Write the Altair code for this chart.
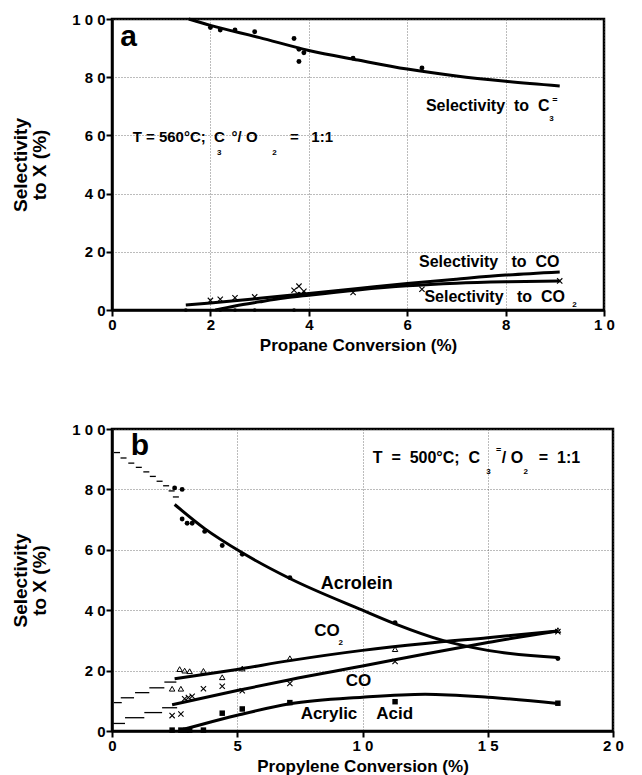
import altair as alt
import pandas as pd

FONT = "Liberation Sans"

# ---------------- panel a: propane, T = 560 C ----------------
a_c3_x = [2.0, 2.2, 2.5, 2.9, 3.7, 3.8, 3.9, 3.8, 4.9, 6.3]
a_c3_y = [97.1, 96.2, 96.2, 95.6, 93.3, 89.6, 88.4, 85.4, 86.5, 83.2]
a_co_x = [2.0, 2.2, 2.5, 2.9, 3.7, 3.8, 3.9, 4.9, 6.3, 9.1]
a_co_y = [3.3, 3.7, 4.2, 4.5, 6.8, 8.2, 6.4, 6.0, 7.1, 10.0]
a_co2_x = [1.5, 2.2, 2.5, 2.9, 3.7, 3.8, 3.9]
a_co2_y = [0.0, 0.0, 0.0, 0.0, 0.0, 5.6, 5.9]

# fitted trend curves
a_fit_c3_x = [1.56, 2.0, 3.0, 4.0, 5.0, 6.0, 7.0, 8.0, 9.1]
a_fit_c3_y = [100.0, 97.8, 93.6, 89.2, 85.9, 82.8, 80.4, 78.6, 77.0]
a_fit_co_x = [1.5, 2.0, 3.0, 4.0, 5.0, 6.0, 7.0, 8.0, 9.1]
a_fit_co_y = [1.7, 2.4, 4.0, 5.7, 7.4, 9.1, 10.6, 12.0, 13.1]
a_fit_co2_x = [2.1, 2.5, 3.0, 3.5, 4.0, 5.0, 6.0, 7.0, 8.0, 9.1]
a_fit_co2_y = [0.0, 1.4, 2.8, 4.1, 5.1, 6.9, 8.3, 9.2, 9.7, 10.0]

a_x_ticks = [0, 2, 4, 6, 8, 10]
a_x_labels = ["0", "2", "4", "6", "8", "1 0"]

# ---------------- panel b: propylene, T = 500 C ----------------
b_acr_x = [2.5, 2.8, 2.8, 3.0, 3.2, 3.7, 4.4, 5.2, 7.1, 11.3, 17.8]
b_acr_y = [80.5, 80.0, 70.2, 68.8, 68.8, 66.1, 61.4, 58.5, 50.8, 35.9, 24.0]
b_co2_x = [2.4, 2.75, 2.7, 2.9, 3.1, 3.65, 4.4, 5.2, 7.1, 11.3, 17.8]
b_co2_y = [14.0, 14.0, 20.5, 20.0, 19.8, 19.9, 17.8, 20.7, 24.1, 27.1, 33.4]
b_co_x = [2.4, 2.75, 2.9, 3.05, 3.2, 3.65, 4.4, 5.2, 7.1, 11.3, 17.8]
b_co_y = [5.1, 5.6, 10.7, 11.1, 11.5, 14.0, 14.8, 13.3, 15.7, 23.0, 32.9]
b_aa_x = [2.4, 2.75, 2.95, 3.1, 3.65, 4.4, 5.2, 7.1, 11.3, 17.8]
b_aa_y = [0.3, 0.3, 0.3, 0.3, 0.3, 5.9, 7.3, 9.4, 9.7, 9.2]

b_fit_acr_x = [2.5, 3.7, 5.2, 7.1, 10.0, 11.3, 13.2, 15.0, 17.8]
b_fit_acr_y = [75.0, 67.0, 59.0, 50.5, 40.0, 35.5, 30.0, 26.7, 24.3]
b_fit_co2_x = [2.5, 5.0, 7.1, 10.0, 12.5, 15.0, 17.8]
b_fit_co2_y = [17.3, 20.4, 23.3, 26.7, 29.0, 30.9, 33.1]
b_fit_co_x = [2.4, 5.0, 7.1, 10.0, 12.5, 15.0, 17.8]
b_fit_co_y = [8.7, 13.4, 17.0, 21.5, 25.5, 29.3, 33.1]
b_fit_aa_x = [2.7, 3.5, 5.0, 7.1, 10.0, 12.5, 15.0, 17.8]
b_fit_aa_y = [0.2, 2.0, 5.2, 9.0, 11.2, 12.2, 11.2, 9.1]

# hatched extrapolation of the fits towards zero conversion
b_ext_acr_x = [0.08, 0.34, 0.65, 0.95, 1.25, 1.51, 1.78, 2.04, 2.26, 2.43]
b_ext_acr_y = [92.2, 90.4, 88.7, 87.3, 85.8, 84.3, 82.7, 81.2, 79.5, 77.5]
b_ext_acr_w = 0.24
b_ext_co2_x1 = [2.09, 1.49, 0.92, 0.35, 0.08]
b_ext_co2_x2 = [2.57, 2.09, 1.49, 0.88, 0.39]
b_ext_co2_y = [16.2, 14.3, 12.7, 11.0, 9.4]
b_ext_co_x1 = [2.0, 1.29, 0.52, 0.05]
b_ext_co_x2 = [2.6, 2.0, 1.29, 0.52]
b_ext_co_y = [7.7, 6.1, 4.4, 2.5]

b_x_ticks = [0, 5, 10, 15, 20]
b_x_labels = ["0", "5", "1 0", "1 5", "2 0"]

y_ticks = [0, 20, 40, 60, 80, 100]
y_labels = ["0", "2 0", "4 0", "6 0", "8 0", "1 0 0"]

NB = "\u00a0"


def label_expr(values, labels):
    expr = "datum.label"
    for v, l in reversed(list(zip(values, labels))):
        expr = f"datum.value == {v} ? '{l}' : ({expr})"
    return expr


def axis(values, labels, title, **kw):
    return alt.Axis(
        values=values, labelExpr=label_expr(values, labels), title=title,
        grid=True, gridDash=[1, 2], gridColor="#555555", gridWidth=0.8,
        domainColor="black", domainWidth=2.5, tickColor="black", tickWidth=2,
        tickSize=6, labelFont=FONT, labelFontWeight="bold", labelFontSize=15,
        labelColor="black", labelPadding=1, labelOverlap=False,
        titleFont=FONT, titleFontWeight="bold", titleColor="black", **kw)


def frame(xs, ys, **extra):
    d = {"x": xs, "y": ys}
    d.update(extra)
    return pd.DataFrame(d)


def fits(pairs):
    rows = []
    for name, xs, ys in pairs:
        for i, (x, y) in enumerate(zip(xs, ys)):
            rows.append({"series": name, "x": x, "y": y, "order": i})
    return pd.DataFrame(rows)


def texts(items):
    return pd.DataFrame(items, columns=["x", "y", "t", "s"])


CROSS = "M-1,-1L1,1M-1,1L1,-1"


def panel(xmax, xticks, xlabels, xtitle, width, height, fit_df, point_layers,
          rule_df, left_texts, center_texts):
    X = alt.X("x:Q", scale=alt.Scale(domain=[0, xmax], nice=False),
              axis=axis(xticks, xlabels, xtitle, labelFlush=False,
                        titleFontSize=17, titlePadding=5))
    Y = alt.Y("y:Q", scale=alt.Scale(domain=[0, 100], nice=False),
              axis=axis(y_ticks, y_labels, ["Selectivity", "to X (%)"],
                        titleFontSize=19, titleLineHeight=19, titlePadding=22))
    layers = [
        alt.Chart(fit_df).mark_line(color="black", strokeWidth=3,
                                    interpolate="monotone")
        .encode(x=X, y=Y, detail="series:N", order="order:Q")
    ]
    if rule_df is not None:
        layers.append(alt.Chart(rule_df).mark_rule(color="black", strokeWidth=1.3)
                      .encode(x=X, x2="x2:Q", y=Y))
    for df, mark in point_layers:
        layers.append(alt.Chart(df).mark_point(**mark).encode(x=X, y=Y))
    for df, align in ((left_texts, "left"), (center_texts, "center")):
        layers.append(
            alt.Chart(df).mark_text(font=FONT, fontWeight="bold", align=align,
                                    baseline="alphabetic", color="black")
            .encode(x=X, y=Y, text="t:N", size=alt.Size("s:Q", scale=None)))
    return alt.layer(*layers).properties(width=width, height=height)


dot = dict(shape="circle", filled=True, color="black", size=24, opacity=1)
small_dot = dict(shape="circle", filled=True, color="black", size=14, opacity=1)
cross = dict(shape=CROSS, filled=False, color="black", size=28, strokeWidth=1.1,
             opacity=1)
tri = dict(shape="triangle-up", filled=False, color="black", size=30,
           strokeWidth=1.0, opacity=1)
square = dict(shape="square", filled=True, color="black", size=30, opacity=1)

chart_a = panel(
    10, a_x_ticks, a_x_labels, "Propane Conversion (%)", 492, 291,
    fits([("C3=", a_fit_c3_x, a_fit_c3_y), ("CO", a_fit_co_x, a_fit_co_y),
          ("CO2", a_fit_co2_x, a_fit_co2_y)]),
    [(frame(a_c3_x, a_c3_y), dot), (frame(a_co_x, a_co_y), cross),
     (frame(a_co2_x, a_co2_y), small_dot)],
    None,
    texts([
        (0.17, 90.7, "a", 30),
        (0.42, 57.8, f"T{NB}={NB}560°C;{NB}{NB}C", 15),
        (2.43, 57.8, f"°/{NB}O", 15),
        (3.62, 57.8, f"={NB}{NB}{NB}1:1", 15),
        (6.38, 68.4, f"Selectivity{NB}{NB}to{NB}{NB}C", 16),
        (6.24, 14.8, f"Selectivity{NB}{NB}{NB}to{NB}{NB}CO", 16),
        (6.35, 2.85, f"Selectivity{NB}{NB}{NB}to{NB}{NB}CO", 16),
    ]),
    texts([
        (2.18, 53.3, "3", 8),
        (3.30, 53.3, "2", 8),
        (8.93, 64.9, "3", 8),
        (9.00, 71.3, "=", 9),
        (9.40, 1.2, "2", 8),
    ]),
)

rules_b = pd.concat([
    pd.DataFrame({"x": b_ext_acr_x,
                  "x2": [v + b_ext_acr_w for v in b_ext_acr_x],
                  "y": b_ext_acr_y}),
    pd.DataFrame({"x": b_ext_co2_x1, "x2": b_ext_co2_x2, "y": b_ext_co2_y}),
    pd.DataFrame({"x": b_ext_co_x1, "x2": b_ext_co_x2, "y": b_ext_co_y}),
], ignore_index=True)

chart_b = panel(
    20, b_x_ticks, b_x_labels, "Propylene Conversion (%)", 501, 302,
    fits([("Acrolein", b_fit_acr_x, b_fit_acr_y), ("CO2", b_fit_co2_x, b_fit_co2_y),
          ("CO", b_fit_co_x, b_fit_co_y), ("Acrylic acid", b_fit_aa_x, b_fit_aa_y)]),
    [(frame(b_acr_x, b_acr_y), dot), (frame(b_co2_x, b_co2_y), tri),
     (frame(b_co_x, b_co_y), cross), (frame(b_aa_x, b_aa_y), square)],
    rules_b,
    texts([
        (0.75, 91.3, "b", 30),
        (10.41, 88.9, f"T{NB}{NB}={NB}{NB}500°C;{NB}{NB}C", 16),
        (15.56, 88.9, f"/{NB}O", 16),
        (17.04, 88.9, f"={NB}{NB}1:1", 16),
        (8.33, 47.0, "Acrolein", 18),
        (8.07, 31.6, "CO", 17),
        (9.33, 15.0, "CO", 17),
        (7.53, 3.85, f"Acrylic{NB}{NB}{NB}{NB}Acid", 17),
    ]),
    texts([
        (15.03, 85.2, "3", 8),
        (15.43, 92.1, "=", 9),
        (16.52, 85.2, "2", 8),
        (9.13, 28.6, "2", 8),
    ]),
)

chart = (
    alt.vconcat(chart_a, chart_b, spacing=65)
    .properties(padding={"left": 10, "top": 10, "right": 5, "bottom": 2},
                background="white")
    .configure_view(stroke="black", strokeWidth=2.5)
)

chart.save("out.html", embed_options={"renderer": "svg", "actions": False})
